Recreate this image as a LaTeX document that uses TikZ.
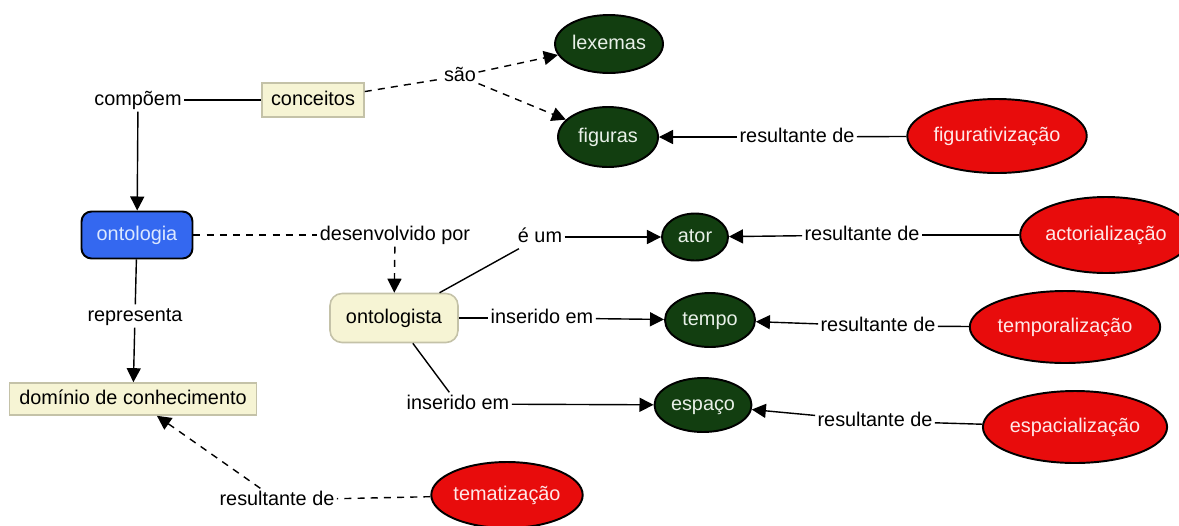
\documentclass[tikz,border=0pt]{standalone}
\usepackage{fontspec}
\setmainfont{Liberation Sans}
\usetikzlibrary{shapes.geometric,arrows.meta}
\definecolor{dgreen}{RGB}{18,62,16}
\definecolor{cred}{RGB}{232,12,12}
\definecolor{cblue}{RGB}{52,104,240}
\definecolor{cbeige}{RGB}{246,244,212}
\definecolor{cbeigeline}{RGB}{196,194,168}
\definecolor{ctxtg}{RGB}{232,240,232}
\definecolor{ctxtr}{RGB}{255,232,232}
\definecolor{ctxtb}{RGB}{220,232,255}
\begin{document}
\begin{tikzpicture}[x=0.02cm,y=-0.02cm,
  every node/.style={font=\fontsize{11.3}{13}\selectfont, text height=8.2pt, text depth=2.3pt},
  lbl/.style={inner sep=1.2pt},
  gell/.style={ellipse, draw=black, line width=1.1pt, fill=dgreen, text=ctxtg, inner sep=0pt},
  rell/.style={ellipse, draw=black, line width=1.1pt, fill=cred, text=ctxtr, inner sep=0pt},
  bbox/.style={rectangle, draw=cbeigeline, line width=0.9pt, fill=cbeige, inner sep=0pt},
  bluebox/.style={rectangle, rounded corners=0.2cm, draw=black, line width=1.1pt, fill=cblue, text=ctxtb, inner sep=0pt},
  rbox/.style={rectangle, rounded corners=0.24cm, draw=cbeigeline, line width=0.9pt, fill=cbeige, inner sep=0pt},
  conn/.style={draw=black, line width=0.8pt},
  dconn/.style={draw=black, line width=0.8pt, dash pattern=on 4pt off 3.5pt},
  arr/.style={-{Triangle[length=8pt,width=8pt]}}
]
\useasboundingbox (0,0) rectangle (1179,525);

% concept nodes
\node[gell, minimum width=2.16cm, minimum height=1.16cm] (lex) at (609,44) {lexemas};
\node[gell, minimum width=2.0cm, minimum height=1.2cm] (fig) at (608,137) {figuras};
\node[rell, minimum width=3.28cm, minimum height=1.48cm] (figz) at (997,136) {figurativização};
\node[rell, minimum width=2.92cm, minimum height=1.52cm] (act) at (1106,235) {actorialização};
\node[gell, minimum width=1.32cm, minimum height=0.94cm] (ator) at (695,237) {ator};
\node[gell, minimum width=1.8cm, minimum height=1.08cm] (tempo) at (710,320) {tempo};
\node[gell, minimum width=1.94cm, minimum height=1.08cm] (esp) at (703,405) {espaço};
\node[rell, minimum width=3.4cm, minimum height=1.44cm] (temp) at (1065,327) {temporalização};
\node[rell, minimum width=3.3cm, minimum height=1.44cm] (espz) at (1075,427) {espacialização};
\node[rell, minimum width=2.74cm, minimum height=1.32cm] (tema) at (507,495) {tematização};

\node[bbox, minimum width=2.04cm, minimum height=0.68cm] (conc) at (313,100) {conceitos};
\node[bbox, minimum width=4.94cm, minimum height=0.64cm] (dom) at (133,399) {domínio de conhecimento};
\node[bluebox, minimum width=2.22cm, minimum height=0.94cm] (ont) at (137,235) {ontologia};
\node[rbox, minimum width=2.56cm, minimum height=0.98cm] (ontg) at (394,318) {ontologista};

% linking phrases
\node[lbl] (comp) at (138,100) {compõem};
\node[lbl] (sao) at (460,76) {são};
\node[lbl] (rfig) at (797,137) {resultante de};
\node[lbl] (desv) at (395,235) {desenvolvido por};
\node[lbl] (eum) at (540,237) {é um};
\node[lbl] (ract) at (862,235) {resultante de};
\node[lbl] (ins1) at (542,318) {inserido em};
\node[lbl] (rtemp) at (878,326) {resultante de};
\node[lbl] (ins2) at (458,404) {inserido em};
\node[lbl] (resp) at (875,421) {resultante de};
\node[lbl] (repr) at (135,316) {representa};
\node[lbl] (rtema) at (277,500) {resultante de};

% connectors
\draw[conn] (comp) -- (conc);
\draw[conn,arr] (comp) -- (ont);
\draw[dconn] (conc) -- (sao);
\draw[dconn,arr] (sao) -- (lex);
\draw[dconn,arr] (sao) -- (fig);
\draw[conn] (figz) -- (rfig);
\draw[conn,arr] (rfig) -- (fig);
\draw[dconn] (ont) -- (desv);
\draw[dconn,arr] (desv) -- (ontg);
\draw[conn] (ontg) -- (eum);
\draw[conn,arr] (eum) -- (ator);
\draw[conn] (ontg) -- (ins1);
\draw[conn,arr] (ins1) -- (tempo);
\draw[conn] (ontg) -- (ins2);
\draw[conn,arr] (ins2) -- (esp);
\draw[conn] (act) -- (ract);
\draw[conn,arr] (ract) -- (ator);
\draw[conn] (temp) -- (rtemp);
\draw[conn,arr] (rtemp) -- (tempo);
\draw[conn] (espz) -- (resp);
\draw[conn,arr] (resp) -- (esp);
\draw[conn] (ont) -- (repr);
\draw[conn,arr] (repr) -- (dom);
\draw[dconn] (tema) -- (rtema);
\draw[dconn,arr] (rtema) -- (dom);
\end{tikzpicture}
\end{document}
